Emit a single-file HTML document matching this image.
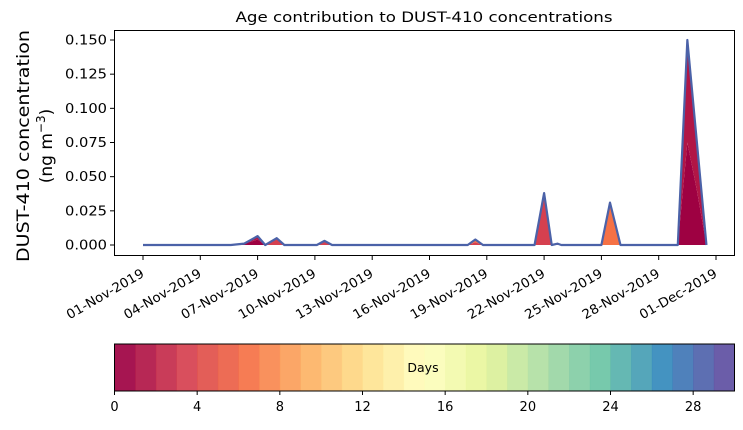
<!DOCTYPE html>
<html><head><meta charset="utf-8"><style>
body{margin:0;background:#fff;}
svg text{font-family:"DejaVu Sans","Liberation Sans",sans-serif;fill:#000;}
</style></head><body>
<svg id="c" width="743" height="425" xmlns="http://www.w3.org/2000/svg"></svg>
<script>
// ---- data ----
const tickDates = ["01-Nov-2019","04-Nov-2019","07-Nov-2019","10-Nov-2019","13-Nov-2019","16-Nov-2019","19-Nov-2019","22-Nov-2019","25-Nov-2019","28-Nov-2019","01-Dec-2019"];
const tickDays = [0,3,6,9,12,15,18,21,24,27,30];
const yTicks = [0,0.025,0.05,0.075,0.1,0.125,0.15];
const times = [0,4.6,5.3,6.0,6.4,7.0,7.4,9.1,9.5,9.9,17.0,17.4,17.8,20.5,21.0,21.4,21.7,21.9,24.0,24.45,25.0,28.0,28.5,29.0,29.5];
const age0  = [0,0,0.001,0.004,0,0,0,0,0,0,0,0,0,0,0,0,0,0,0,0,0,0,0.075,0.040,0];
const age1  = [0,0,0,0.0025,0,0,0,0,0,0,0,0,0,0,0,0,0,0,0,0,0,0,0.075,0.035,0];
const age3  = [0,0,0,0,0,0.005,0,0,0.003,0,0,0.002,0,0,0.038,0,0.001,0,0,0,0,0,0,0,0];
const age6  = [0,0,0,0,0,0,0,0,0,0,0,0.002,0,0,0,0,0,0,0,0.031,0,0,0,0,0];
const cbTicks = [0,4,8,12,16,20,24,28];
// ---- scales ----
const X0=143, PXD=19.1, Y0=245, PYU=205/0.15;
const x = d => X0 + d*PXD;
const y = v => Y0 - v*PYU;
const NS="http://www.w3.org/2000/svg", svg=document.getElementById('c');
function mk(t,a,p){const e=document.createElementNS(NS,t);for(const k in a)e.setAttribute(k,a[k]);(p||svg).appendChild(e);return e;}
const spec=["#9e0142","#d53e4f","#f46d43","#fdae61","#fee08b","#ffffbf","#e6f598","#abdda4","#66c2a5","#3288bd","#5e4fa2"];
function cmap(t){const s=t*10,i=Math.min(9,Math.floor(s)),f=s-i;const a=spec[i],b=spec[i+1];const h=(c,k)=>parseInt(c.substr(1+2*k,2),16);return "rgb("+[0,1,2].map(k=>Math.round(h(a,k)+(h(b,k)-h(a,k))*f)).join(",")+")";}
// title
let t=mk('text',{x:424,y:22,'text-anchor':'middle','font-size':14,textLength:377,lengthAdjust:'spacingAndGlyphs'});t.textContent="Age contribution to DUST-410 concentrations";


// y label
let yl=mk('text',{transform:'translate(29,146) rotate(-90)','text-anchor':'middle','font-size':17,textLength:232,lengthAdjust:'spacingAndGlyphs'});yl.textContent="DUST-410 concentration";


let yl2=mk('text',{transform:'translate(52,146) rotate(-90)','text-anchor':'middle','font-size':17});yl2.innerHTML='(ng m<tspan dy="-7" font-size="12">−3</tspan><tspan dy="7">)</tspan>';


// stacked areas
const layers=[age0,age1,age3,age6], lcol=[cmap(0/29),cmap(1/29),cmap(3/29),cmap(6/29)];
let base=times.map(()=>0);
layers.forEach((L,li)=>{
  const top=base.map((b,i)=>b+L[i]);
  let d="M"+times.map((tt,i)=>x(tt)+","+y(top[i])).join("L");
  for(let i=times.length-1;i>=0;i--) d+="L"+x(times[i])+","+y(base[i]);
  const p=mk('path',{d:d+"Z",fill:lcol[li],stroke:'none'});
  
  
  base=top;
});
const tl=mk('path',{d:"M"+times.map((tt,i)=>x(tt)+","+y(base[i])).join("L"),fill:'none',stroke:'#4b62a8','stroke-width':2.2,'stroke-linejoin':'round'});


// axes frame
const fr=mk('rect',{x:114.5,y:30.5,width:620,height:225,fill:'none',stroke:'#000','stroke-width':1});


yTicks.forEach(v=>{
  mk('line',{x1:110,x2:114,y1:y(v),y2:y(v),stroke:'#000'});
  const e=mk('text',{x:107,y:y(v)+4.5,'text-anchor':'end','font-size':13.5,textLength:42,lengthAdjust:'spacingAndGlyphs'});e.textContent=v.toFixed(3);
  
  
});
tickDays.forEach((d,i)=>{
  mk('line',{x1:x(d),x2:x(d),y1:256,y2:260,stroke:'#000'});
  const e=mk('text',{transform:`translate(${x(d)+2},${276}) rotate(-30)`,'text-anchor':'end','font-size':13,textLength:87,lengthAdjust:'spacingAndGlyphs'});e.textContent=tickDates[i];
  
  
});
// colorbar
const CB0=114.5,CBW=620,N=30;
for(let i=0;i<N;i++){
  const r=mk('rect',{x:CB0+i*CBW/N,y:344,width:CBW/N+0.5,height:47,fill:cmap(i/(N-1)),opacity:0.92});
  
  
}
const cf=mk('rect',{x:CB0,y:344,width:CBW,height:47,fill:'none',stroke:'#000'});


let dl=mk('text',{x:423,y:372,'text-anchor':'middle','font-size':12.5});dl.textContent="Days";


cbTicks.forEach(v=>{
  const xx=CB0+v*CBW/N;
  mk('line',{x1:xx,x2:xx,y1:391,y2:395,stroke:'#000'});
  const e=mk('text',{x:xx,y:411,'text-anchor':'middle','font-size':13});e.textContent=v;
  
  
});
</script>
</body></html>
